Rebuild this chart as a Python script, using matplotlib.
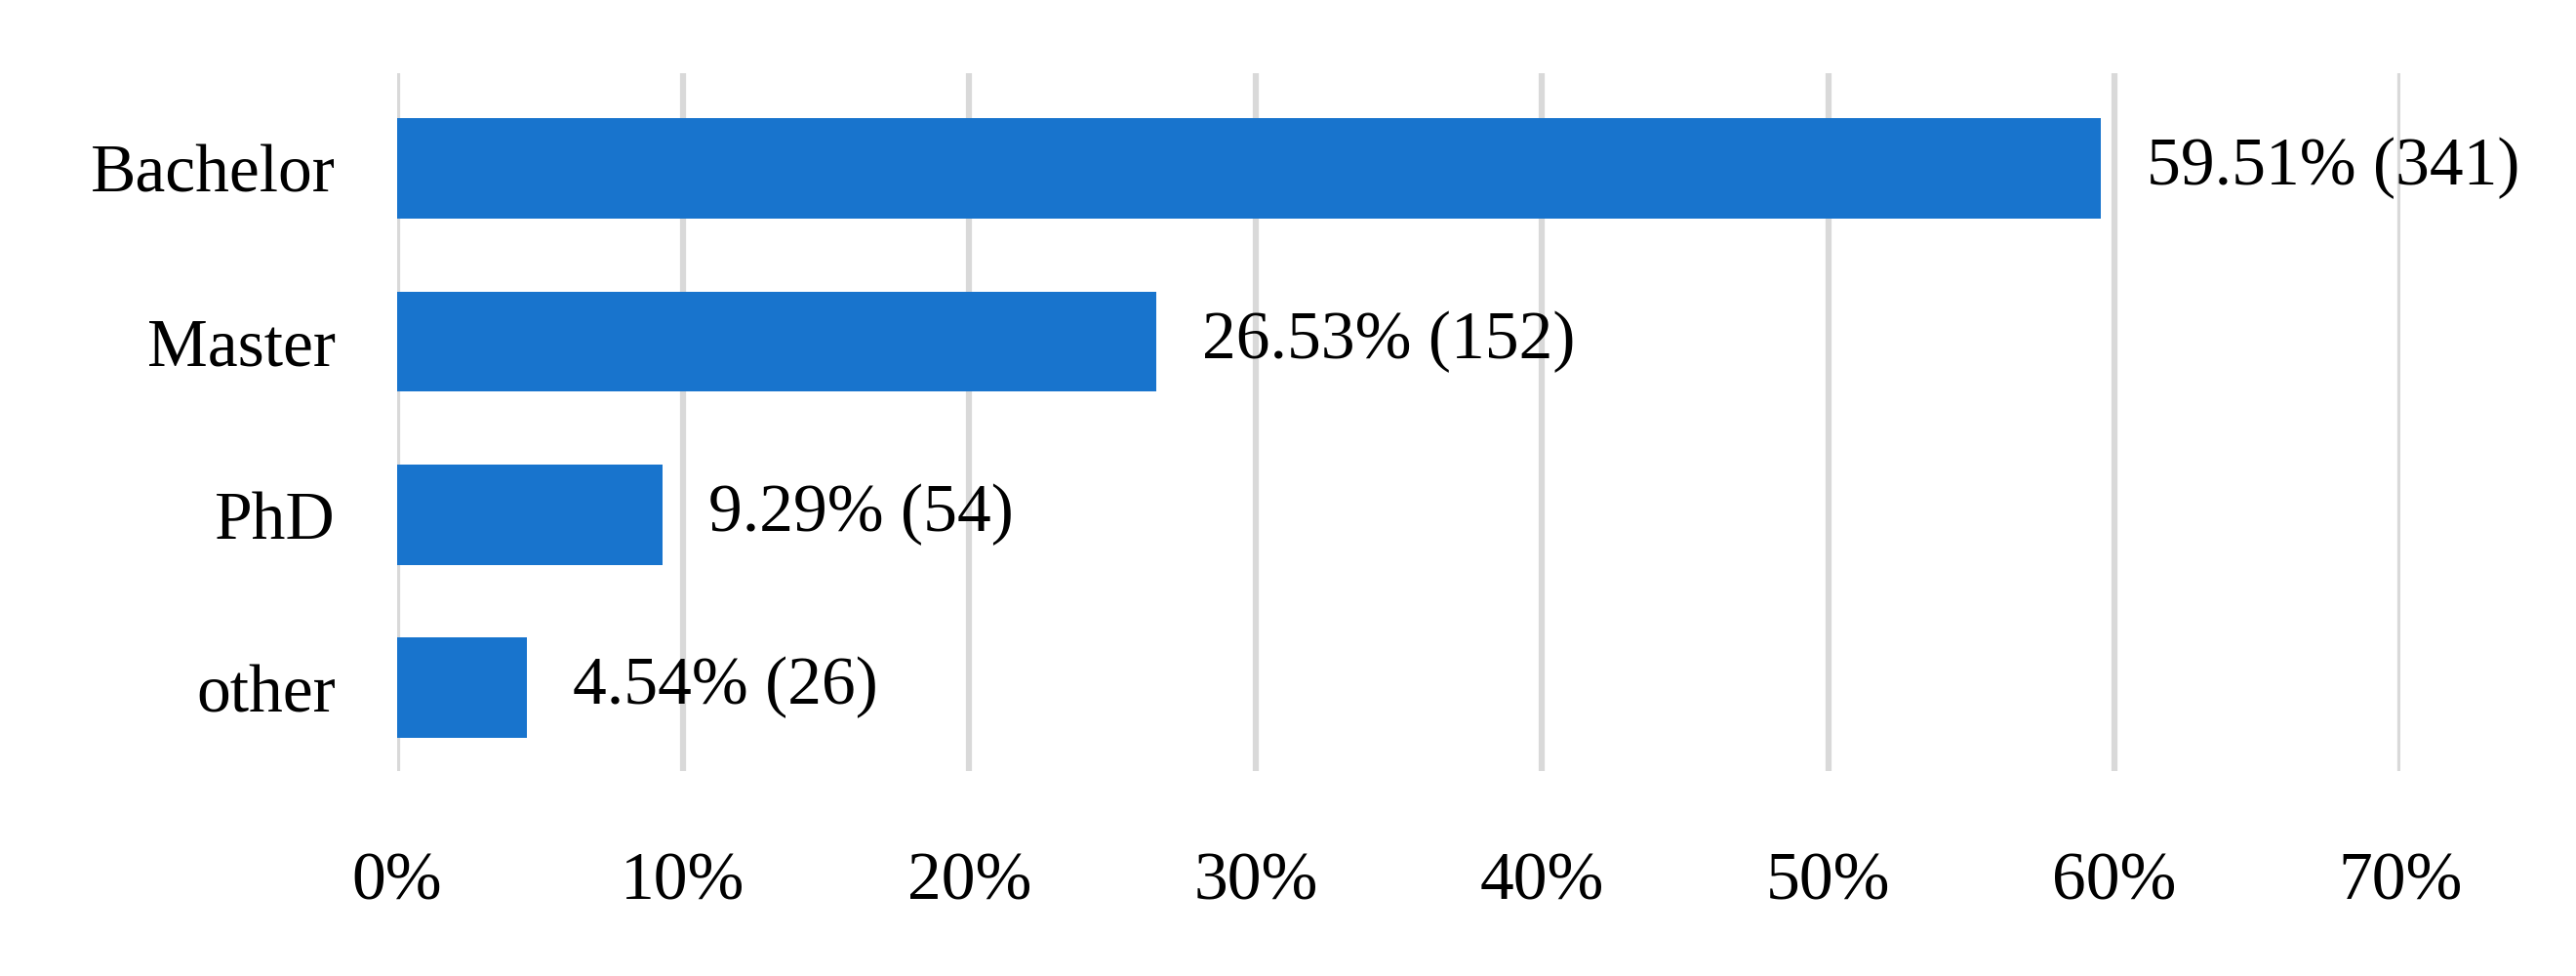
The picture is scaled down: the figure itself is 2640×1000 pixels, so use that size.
import matplotlib
matplotlib.use("Agg")
import matplotlib.pyplot as plt
from matplotlib.ticker import PercentFormatter

categories = ["Bachelor", "Master", "PhD", "other"]
percents = [59.51, 26.53, 9.29, 4.54]
counts = [341, 152, 54, 26]
ticks = [0, 10, 20, 30, 40, 50, 60, 70]

plt.rcParams['font.family'] = ['Liberation Serif', 'DejaVu Serif']
fig = plt.figure(figsize=(26.4, 10), dpi=100)
ax = fig.add_axes([0.154, 0.21, 0.778, 0.715])

ax.barh(categories, percents, height=0.58, color="#1874CD", zorder=3)
for i, (p, c) in enumerate(zip(percents, counts)):
    ax.text(p + 1.6, i, f"{p:.2f}% ({c})", va="center", ha="left", fontsize=50)

ax.set_xlim(0, 70)
ax.set_ylim(3.48, -0.55)
ax.set_xticks(ticks)
ax.xaxis.set_major_formatter(PercentFormatter(decimals=0))
ax.grid(axis="x", color="#d9d9d9", linewidth=4.5, zorder=0)
ax.tick_params(length=0, labelsize=50)
ax.tick_params(axis="y", pad=45)
ax.tick_params(axis="x", pad=60)
for s in ax.spines.values():
    s.set_visible(False)

fig.savefig("out.png", dpi=100)
